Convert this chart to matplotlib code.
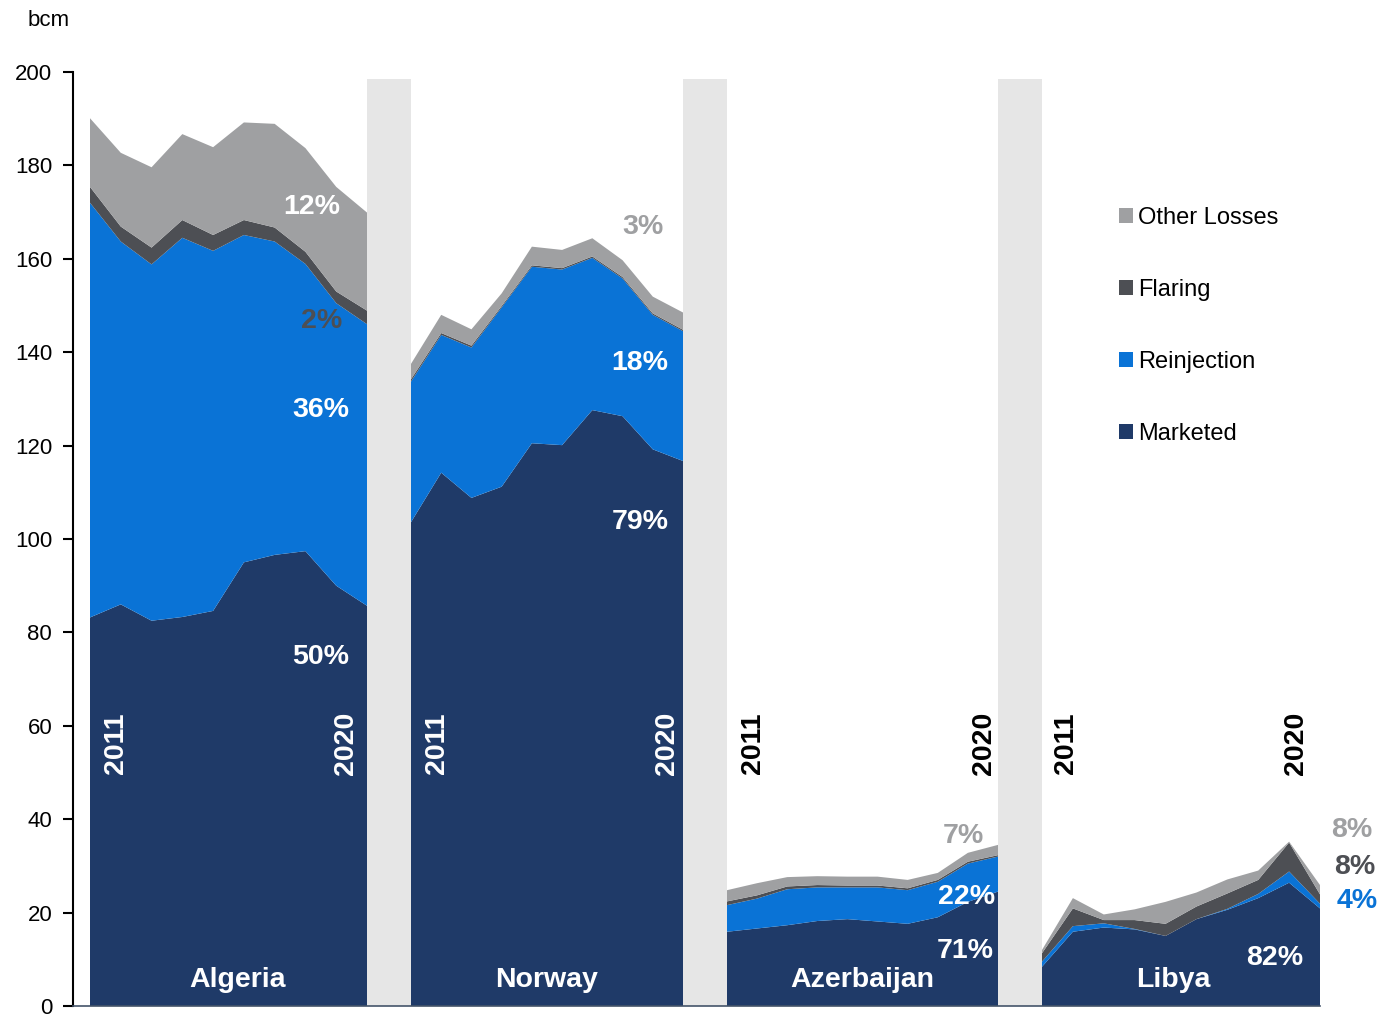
import matplotlib
matplotlib.use("Agg")
import matplotlib.pyplot as plt
from matplotlib.patches import Patch
import numpy as np

plt.rcParams['font.family'] = ['Liberation Sans', 'DejaVu Sans']

years = list(range(2011, 2021))
countries = ["Algeria", "Norway", "Azerbaijan", "Libya"]
series_names = ["Marketed", "Reinjection", "Flaring", "Other Losses"]

algeria_marketed = [83.2, 86.0, 82.5, 83.3, 84.6, 95.0, 96.6, 97.4, 90.0, 85.7]
algeria_reinjection = [88.8, 77.7, 76.3, 81.2, 77.1, 70.1, 67.1, 61.5, 60.5, 60.3]
algeria_flaring = [3.4, 3.2, 3.6, 3.8, 3.4, 3.2, 3.0, 2.6, 2.5, 2.9]
algeria_other = [14.7, 15.8, 17.2, 18.4, 18.8, 20.9, 22.2, 22.2, 22.4, 21.0]

norway_marketed = [103.6, 114.2, 108.8, 111.2, 120.5, 120.1, 127.6, 126.3, 119.2, 116.7]
norway_reinjection = [30.1, 29.5, 32.2, 38.4, 37.8, 37.6, 32.6, 29.5, 28.8, 27.8]
norway_flaring = [0.5, 0.4, 0.4, 0.3, 0.3, 0.3, 0.3, 0.3, 0.3, 0.3]
norway_other = [3.3, 3.9, 3.5, 2.7, 4.0, 3.9, 3.9, 3.6, 3.6, 3.7]

azerbaijan_marketed = [15.9, 16.6, 17.3, 18.2, 18.6, 18.1, 17.6, 19.0, 22.3, 24.5]
azerbaijan_reinjection = [5.7, 6.4, 7.7, 7.2, 6.8, 7.3, 7.2, 7.6, 8.2, 7.5]
azerbaijan_flaring = [0.8, 0.7, 0.6, 0.5, 0.4, 0.4, 0.4, 0.4, 0.4, 0.3]
azerbaijan_other = [2.4, 2.6, 2.0, 1.9, 1.9, 1.9, 1.8, 1.5, 1.9, 2.2]

libya_marketed = [8.4, 15.9, 16.8, 16.4, 15.0, 18.6, 20.6, 23.1, 26.4, 20.9]
libya_reinjection = [1.1, 1.2, 0.9, 0.1, 0.0, 0.0, 0.2, 0.9, 2.4, 1.0]
libya_flaring = [1.8, 3.8, 0.7, 1.9, 2.6, 2.7, 3.3, 3.0, 6.2, 2.0]
libya_other = [0.7, 2.2, 1.2, 2.3, 4.7, 3.0, 3.0, 2.0, 0.2, 2.0]

data = {
    "Algeria": [algeria_marketed, algeria_reinjection, algeria_flaring, algeria_other],
    "Norway": [norway_marketed, norway_reinjection, norway_flaring, norway_other],
    "Azerbaijan": [azerbaijan_marketed, azerbaijan_reinjection, azerbaijan_flaring, azerbaijan_other],
    "Libya": [libya_marketed, libya_reinjection, libya_flaring, libya_other],
}

# 2020 share labels per country, in series order (Marketed, Reinjection, Flaring, Other)
share_labels = {
    "Algeria": ["50%", "36%", "2%", "12%"],
    "Norway": ["79%", "18%", None, "3%"],
    "Azerbaijan": ["71%", "22%", None, "7%"],
    "Libya": ["82%", "4%", "8%", "8%"],
}

colors = ["#1F3A68", "#0A73D6", "#4D4F54", "#9FA0A2"]
sep_color = "#E6E6E6"

W, H = 1378, 1014
fig = plt.figure(figsize=(W / 100, H / 100), dpi=100)
ax_left, ax_right = 73, 1320
ax_bottom, ax_top = 1006, 72
ax = fig.add_axes([ax_left / W, (H - ax_bottom) / H, (ax_right - ax_left) / W, (ax_bottom - ax_top) / H])
ax.set_xlim(ax_left, ax_right)
ax.set_ylim(0, 200)

# horizontal layout of the four panels (x axis in pixel-like units)
group_start = [90, 411, 727, 1042]
group_end = [367, 683, 998, 1320]

for g, c in enumerate(countries):
    xs = np.linspace(group_start[g], group_end[g], len(years))
    ax.stackplot(xs, *data[c], colors=colors, linewidth=0, zorder=2)
    if g < len(countries) - 1:
        ax.bar(group_end[g], 198.5, width=group_start[g + 1] - group_end[g], align='edge',
               color=sep_color, zorder=1, linewidth=0)

# year labels & country names
year_colors = ["white", "white", "black", "black"]
year_x = [(116, 346), (437, 667), (753, 984), (1066, 1296)]
name_x = [238, 547, 862, 1173]
for g, c in enumerate(countries):
    for xp, yr in zip(year_x[g], (str(years[0]), str(years[-1]))):
        ax.text(xp, 56.3, yr, rotation=90, ha='center', va='center',
                fontsize=20.5, fontweight='bold', color=year_colors[g], zorder=5)
    ax.text(name_x[g], 5.6, c, ha='center', va='center',
            fontsize=20.5, fontweight='bold', color='white', zorder=5)

# share labels
lab_style = dict(ha='center', va='center', fontsize=20.5, fontweight='bold', zorder=6)
label_pos = {
    "Algeria": [(321, 74.8, 'white'), (321, 127.7, 'white'), (322, 146.7, '#4D4F54'), (312, 171.1, 'white')],
    "Norway": [(640, 103.7, 'white'), (640, 137.7, 'white'), None, (643, 166.9, '#9FA0A2')],
    "Azerbaijan": [(965, 11.8, 'white'), (967, 23.4, 'white'), None, (963, 36.4, '#9FA0A2')],
    "Libya": [(1275, 10.3, 'white'), (1357, 22.5, '#0A73D6'), (1355, 29.8, '#4D4F54'), (1352, 37.7, '#9FA0A2')],
}
for g, c in enumerate(countries):
    for i, txt in enumerate(share_labels[c]):
        if txt is None:
            continue
        px, py, col = label_pos[c][i]
        ax.text(px, py, txt, color=col, clip_on=False, **lab_style)

# axes styling
for s in ["top", "right"]:
    ax.spines[s].set_visible(False)
ax.spines["left"].set_linewidth(1.5)
ax.spines["left"].set_color("black")
ax.spines["bottom"].set_color("#44546A")
ax.spines["bottom"].set_linewidth(1.2)
ax.spines["bottom"].set_zorder(7)
ax.set_yticks(range(0, 201, 20))
ax.tick_params(axis='y', direction='out', length=7, width=1.5, labelsize=16, pad=8)
ax.set_xticks([])

fig.text(49 / W, 1 - 20 / H, "bcm", ha='center', va='center', fontsize=16)

handles = [Patch(facecolor=colors[i], edgecolor='none', label=series_names[i]) for i in [3, 2, 1, 0]]
fig.legend(handles=handles, loc='upper left', bbox_to_anchor=(1119 / W, 1 - 207 / H),
           frameon=False, fontsize=17, handlelength=0.6, handleheight=0.6,
           handletextpad=0.2, labelspacing=2.12, borderaxespad=0, borderpad=0)

fig.savefig("out.png", dpi=100)
